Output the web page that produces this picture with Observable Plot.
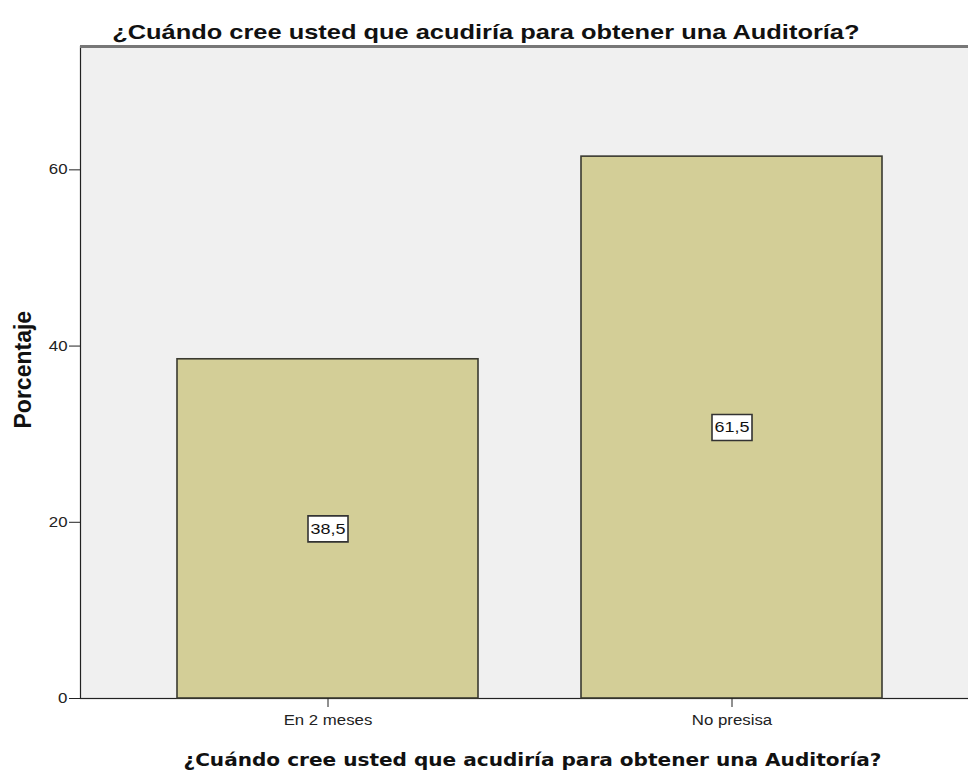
<!DOCTYPE html>
<html>
<head>
<meta charset="utf-8">
<script src="https://cdn.jsdelivr.net/npm/d3@7"></script>
<script src="https://cdn.jsdelivr.net/npm/@observablehq/plot@0.6"></script>
<style>
  body { margin: 0; background: #fff; }
  #title { position: absolute; left: 0; top: 21px; width: 971px; text-align: center;
    font-family: "Liberation Sans", Arial, sans-serif; font-weight: bold; font-size: 21px; line-height: 21px; color: #111; z-index: 2; }
  #title span { display: inline-block; transform: scaleX(1.21); transform-origin: center; }
  #chart { position: absolute; left: 0; top: 0; }
</style>
</head>
<body>
<div id="chart"></div>
<div id="title"><span>¿Cuándo cree usted que acudiría para obtener una Auditoría?</span></div>
<script>
const categories = ["En 2 meses", "No presisa"];
const percentages = [38.5, 61.5];
const yTicks = [0, 20, 40, 60];
const titleText = "¿Cuándo cree usted que acudiría para obtener una Auditoría?";
const yLabel = "Porcentaje";

const data = categories.map((c, i) => ({category: c, value: percentages[i]}));
const fmt = v => String(v).replace(".", ",");

const boxSymbol = { draw(ctx, size) { ctx.rect(-20, -13, 40, 26); } };

const chart = Plot.plot({
  width: 968,
  height: 772,
  marginTop: 46,
  marginLeft: 80,
  marginRight: -2,
  marginBottom: 74,
  style: { fontFamily: "'Liberation Sans', Arial, sans-serif", fontSize: "14px", color: "#222", background: "transparent" },
  x: { domain: categories, paddingInner: 0.254, paddingOuter: 0.2258, align: 0.525, label: null },
  y: { domain: [0, 74], label: null },
  marks: [
    Plot.frame({ fill: "#f0f0f0", stroke: "#222", strokeWidth: 1.2 }),
    Plot.ruleY([74], { stroke: "#777", strokeWidth: 3 }),
    Plot.barY(data, { x: "category", y: "value", fill: "#d3ce97", stroke: "#3a3a30", strokeWidth: 1.6 }),
    Plot.dot(data, { x: "category", y: d => d.value / 2, symbol: boxSymbol, r: 10, fill: "#fff", stroke: "#333", strokeWidth: 1.6 }),
    Plot.text(data, { x: "category", y: d => d.value / 2, text: d => fmt(d.value), fontSize: 15, fill: "#111", className: "stretch" }),
    Plot.axisY({ ticks: yTicks, tickSize: 11, tickPadding: 2, label: null, fontSize: 14, className: "stretch" }),
    Plot.axisX({ tickSize: 9, tickPadding: 8, label: null, fontSize: 14, className: "stretch" }),
    Plot.text([titleText], { frameAnchor: "bottom", dy: 67, dx: 7, fontFamily: "'DejaVu Sans', sans-serif", fontWeight: "bold", fontSize: 18, fill: "#111", className: "xtitle" }),
    Plot.text([yLabel], { frameAnchor: "left", dx: -57, dy: 56, rotate: -90, fontFamily: "'Liberation Sans', Arial, sans-serif", fontWeight: "bold", fontSize: 23, fill: "#111" })
  ]
});
document.getElementById("chart").append(chart);

// widen glyphs horizontally to match the reference's stretched lettering
function stretch(sel, k) {
  chart.querySelectorAll(sel).forEach(t => {
    const w = t.getComputedTextLength();
    t.setAttribute("textLength", (w * k).toFixed(1));
    t.setAttribute("lengthAdjust", "spacingAndGlyphs");
  });
}
stretch("g.stretch text", 1.2);
stretch("g.xtitle text", 1.115);
</script>
</body>
</html>
